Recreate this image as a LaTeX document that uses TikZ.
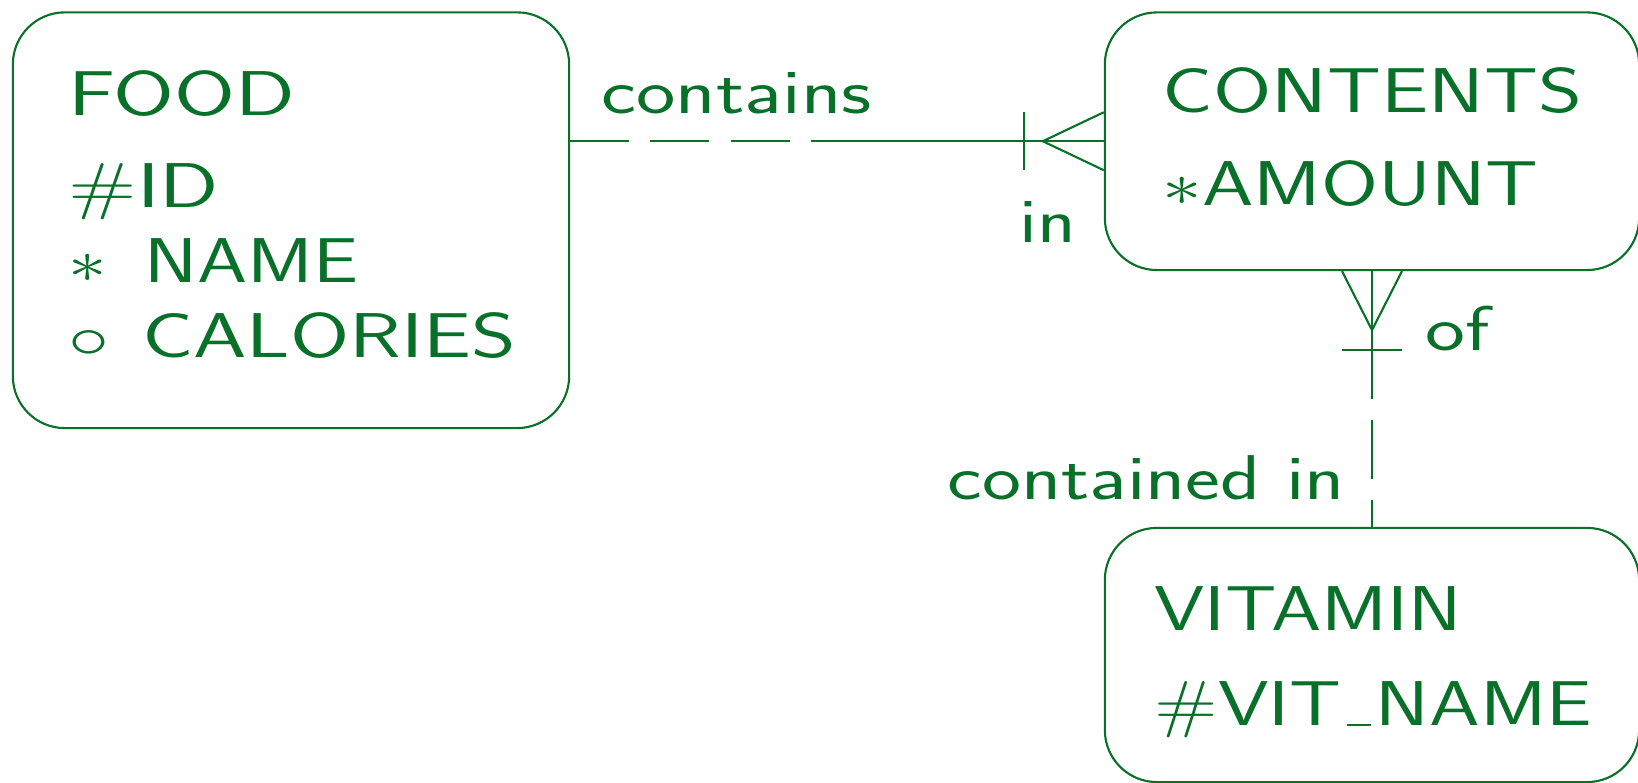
\documentclass[tikz,border=0pt]{standalone}
\usetikzlibrary{positioning}
\definecolor{ergreen}{RGB}{8,112,40}
% slide font is wider than Latin Modern Sans
\newcommand{\wide}[2][1.3]{\scalebox{#1}[1]{#2}}
\newcommand{\usc}{\kern.06em\rule{.3em}{.5pt}\kern.06em}
\tikzset{
  entity/.style={draw=ergreen, line width=0.6pt, rounded corners=0.52cm, inner sep=0pt},
  attr/.style={anchor=base west, inner sep=0pt, text=ergreen, font=\sffamily\fontsize{18}{22}\selectfont},
  rel/.style={ergreen, line width=0.6pt},
  optional/.style={rel, dash pattern=on 16.8pt off 6pt},
}
\begin{document}
\begin{tikzpicture}[x=0.01cm, y=-0.01cm]
    \useasboundingbox (0,0) rectangle (1638,783);
    % entities: FOOD (left), CONTENTS (top right), VITAMIN (bottom right)
    \node[entity, minimum width=5.56cm, minimum height=4.155cm] (food) at (291,220.25) {};
    \node[entity, minimum width=5.34cm, minimum height=2.575cm] (contents) at (1372,141.25) {};
    \node[entity, minimum width=5.34cm, minimum height=2.54cm] (vitamin) at (1372,655) {};

    % attributes
    \foreach \n/\y/\s/\t in {1/116/1.39/FOOD, 2/208/1.38/{\#ID},
                             3/283/1.267/{$\ast$\hspace{0.46em}NAME},
                             4/358/1.35/{$\circ$\hspace{0.38em}CALORIES}}
        \node[attr] (food\n) at (68,\y) {\wide[\s]{\t}};
    \foreach \n/\y/\s/\t in {1/113/1.33/CONTENTS, 2/206/1.30/{$\ast$AMOUNT}}
        \node[attr] (contents\n) at (1162,\y) {\wide[\s]{\t}};
    \foreach \n/\y/\s/\t in {1/631/1.27/VITAMIN, 2/726/1.28/{\#VIT\usc NAME}}
        \node[attr] (vitamin\n) at (1154,\y) {\wide[\s]{\t}};

    % FOOD -- CONTENTS
    \coordinate (cin) at (contents.west);
    \coordinate (fout) at (food.east |- cin);
    \path (fout) -- (cin) coordinate[pos=0.5] (hmid);
    \draw[optional] (fout) -- (hmid);
    \draw[rel] (hmid) -- (cin);
    \draw[rel] (cin) ++(0,-29) -- ++(-61,29) -- ++(61,29);
    \draw[rel] (cin) ++(-80,-29) -- ++(0,58);
    \node[attr] (contains) at (601,114) {\wide[1.32]{contains}};
    \node[attr] (in) at (1019,243) {\wide[1.26]{in}};

    % CONTENTS -- VITAMIN
    \path (contents.south) -- (vitamin.north) coordinate[pos=0.5] (vmid);
    \draw[rel] (contents.south) -- (vmid);
    \draw[optional, dash phase=16.8pt] (vmid) -- (vitamin.north);
    \draw[rel] (contents.south) ++(-30,0) -- ++(30,59) -- ++(30,-59);
    \draw[rel] (contents.south) ++(-30,79) -- ++(60,0);
    \node[attr] (of) at (1425,351) {\wide[1.34]{of}};
    \node[attr] (containedin) at (947,500) {\wide[1.31]{contained in}};
\end{tikzpicture}
\end{document}
